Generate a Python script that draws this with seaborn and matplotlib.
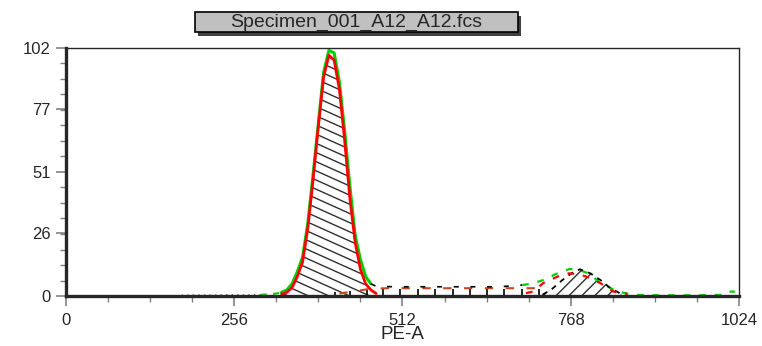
import matplotlib
matplotlib.use('Agg')
import matplotlib.pyplot as plt
from matplotlib.collections import LineCollection
from matplotlib.patches import Rectangle
import numpy as np
import seaborn as sns

# measured histogram (green)
data_x = [296, 304, 312, 320, 328, 336, 344, 352, 360, 368, 376, 384, 392, 400, 408,
          416, 424, 432, 440, 448, 456, 464, 472, 500, 540, 580, 620, 660, 694, 711,
          730, 745, 766, 781, 798, 810, 836, 860, 900, 960, 1000, 1008, 1018]
data_y = [0.5, 0.6, 0.8, 1.0, 1.5, 2.5, 5, 10, 16, 30, 50, 71, 92, 101, 100,
          88, 68, 45, 25, 15, 8, 5, 4, 3.8, 3.8, 3.8, 3.8, 3.8, 4.5, 5.2,
          6.9, 9, 11.1, 10.7, 9, 5.9, 2.2, 0.5, 0.3, 0.3, 0.5, 1.8, 1.8]

# low-channel debris near baseline
debris_x = [176, 200, 224, 248, 272, 296]
debris_y = [0.3, 0.4, 0.3, 0.5, 0.4, 0.5]

# G1 fit (red)
fit_x = [328, 336, 344, 352, 360, 368, 376, 384, 392, 400, 408, 416, 424, 432, 440,
         448, 456, 464, 472]
fit_y = [0.8, 1.5, 3.5, 8, 14, 28, 48, 70, 90, 99, 97, 85, 64, 40, 22, 11, 5, 2.5, 1]

# G2 fit (red, dashed)
fit2_x = [700, 711, 726, 740, 752, 765, 781, 798, 813, 833, 854]
fit2_y = [1.2, 1.8, 5.3, 7, 8.5, 9.3, 9, 7.3, 5.3, 1.8, 0.9]

# G2 component (black dashed, hatched)
g2_x = [725, 740, 755, 770, 782, 798, 813, 828, 845]
g2_y = [0.5, 3, 6.5, 9.5, 11, 9.3, 6.6, 3.3, 0.8]

# S-phase component
s_x = [416, 440, 464, 488, 520, 560, 600, 640, 680, 720]
s_y = [1, 2, 3, 3.2, 3.2, 3.2, 3.2, 3.2, 3.2, 3.2]
bar_x = [409, 432, 458, 483, 508, 536, 562, 589, 614, 641, 667, 694, 719]
bar_y = [1.5, 2, 2.5, 2.8, 2.8, 2.8, 2.8, 2.8, 2.8, 2.8, 2.8, 2.8, 3]

x_ticks = [0, 256, 512, 768, 1024]
y_ticks = [0, 26, 51, 77, 102]
title = 'Specimen_001_A12_A12.fcs'


def hatch_fill(ax, x, y, slope, step, color='#303030'):
    poly = ax.fill_between(x, 0, y, facecolor='none', edgecolor='none')
    offs = np.arange(-4, 4, step)
    segs = [[(0, o), (1, o + slope)] for o in offs]
    lc = LineCollection(segs, colors=color, linewidths=1.0, transform=ax.transAxes)
    ax.add_collection(lc, autolim=False)
    lc.set_clip_path(poly.get_paths()[0], ax.transData)


sns.set_style('ticks')
plt.rcParams['font.family'] = ['Liberation Sans', 'DejaVu Sans']

fig = plt.figure(figsize=(7.62, 3.46), dpi=100)
ax = fig.add_axes([0.0866, 0.1445, 0.8832, 0.7168])

# hatching
hatch_fill(ax, fit_x, fit_y, -1.22, 0.037)
hatch_fill(ax, g2_x, g2_y, 2.71, 0.052)

# S-phase bars
ax.vlines(bar_x, 0, bar_y, colors='black', lw=1.2)
sns.lineplot(x=s_x, y=s_y, ax=ax, color='#c8461e', lw=1.5, ls=(0, (4, 6)), estimator=None)

# debris
sns.lineplot(x=debris_x, y=debris_y, ax=ax, color='#404040', lw=1.0, ls=(0, (1, 3)), estimator=None)

# data histogram: green on the peaks, black dashes across the S region
dx = np.array(data_x)
dy = np.array(data_y)
left = dx <= 336
main = (dx >= 328) & (dx <= 464)
mid = (dx >= 464) & (dx <= 694)
right = dx >= 694
sns.lineplot(x=dx[left], y=dy[left], ax=ax, color='#00d000', lw=1.5,
             ls=(0, (3, 3)), estimator=None)
sns.lineplot(x=dx[main], y=dy[main], ax=ax, color='#00d000', lw=2.2, estimator=None)
sns.lineplot(x=dx[mid], y=dy[mid], ax=ax, color='black', lw=1.2,
             ls=(0, (3, 7)), estimator=None)
sns.lineplot(x=dx[right], y=dy[right], ax=ax, color='#00d000', lw=1.6,
             ls=(0, (3, 4)), estimator=None)

# G2 component outline
sns.lineplot(x=g2_x, y=g2_y, ax=ax, color='black', lw=1.3, ls=(0, (3, 3)), estimator=None)

# fits
sns.lineplot(x=fit_x, y=fit_y, ax=ax, color='#ff0000', lw=2.0, estimator=None)
sns.lineplot(x=fit2_x, y=fit2_y, ax=ax, color='#ff0000', lw=1.6, ls=(0, (3, 4)), estimator=None)

ax.set_xlim(0, 1024)
ax.set_ylim(0, 102)
ax.set_xticks(x_ticks)
ax.set_xticks(np.arange(0, 1025, 64), minor=True)
ax.set_yticks(y_ticks)
ax.set_yticks(np.linspace(0, 102, 17), minor=True)
ax.tick_params(which='major', length=7, width=1.2, color='#808080', labelsize=12, pad=4)
ax.tick_params(axis='x', which='major', pad=5)
ax.tick_params(which='minor', length=4, width=1.0, color='#808080')
ax.set_xlabel('PE-A', fontsize=13.5, labelpad=-1)
ax.set_ylabel('')
for side in ['left', 'bottom']:
    ax.spines[side].set_linewidth(2.4)
for side in ['top', 'right']:
    ax.spines[side].set_linewidth(1.0)
    ax.spines[side].set_visible(True)

# title box with shadow
fig.patches.append(Rectangle((0.260, 0.897), 0.424, 0.058, transform=fig.transFigure,
                             facecolor='#404040', edgecolor='none', zorder=1))
fig.patches.append(Rectangle((0.256, 0.9075), 0.424, 0.058, transform=fig.transFigure,
                             facecolor='#c0c0c0', edgecolor='black', lw=1.2, zorder=2))
fig.text(0.468, 0.936, title, ha='center', va='center', fontsize=14, zorder=3)

fig.savefig('out.png', dpi=100)
